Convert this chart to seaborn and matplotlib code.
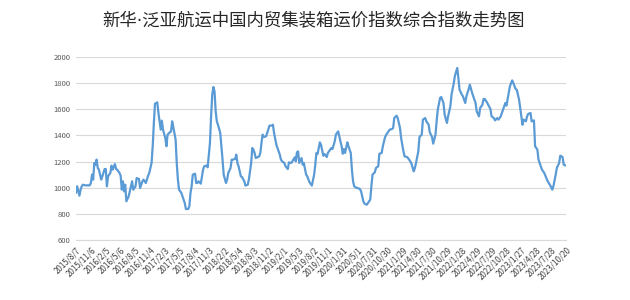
import numpy as np
import pandas as pd
import seaborn as sns
import matplotlib.pyplot as plt
from matplotlib.ticker import MultipleLocator

title = '新华·泛亚航运中国内贸集装箱运价指数综合指数走势图'

# week number since first release, index value
week = [0, 1, 3, 4, 5, 6, 8, 10, 12, 13, 14, 15, 16, 17, 18, 19, 20, 22, 23, 25,
        26, 27, 28, 30, 31, 32, 34, 35, 36, 38, 39, 40, 41, 42, 43, 44, 46, 47, 49, 50,
        52, 53, 55, 56, 58, 59, 61, 63, 64, 66, 67, 68, 69, 71, 72, 74, 75, 76, 78, 79,
        80, 82, 83, 84, 85, 87, 88, 89, 90, 92, 93, 95, 96, 98, 99, 100, 101, 102, 104, 105,
        106, 107, 109, 110, 111, 112, 114, 115, 117, 118, 119, 120, 121, 122, 123, 124, 126, 127, 128, 129,
        131, 132, 133, 135, 136, 137, 139, 140, 141, 142, 144, 145, 147, 148, 150, 151, 153, 154, 155, 156,
        157, 159, 160, 161, 162, 163, 164, 166, 167, 169, 171, 172, 173, 175, 176, 178, 179, 180, 182, 183,
        185, 186, 188, 189, 191, 192, 193, 194, 195, 197, 198, 199, 201, 202, 204, 206, 208, 209, 210, 211,
        213, 214, 216, 217, 219, 220, 221, 223, 224, 226, 227, 229, 230, 232, 233, 234, 235, 237, 238, 240,
        241, 242, 243, 245, 246, 248, 249, 251, 252, 254, 255, 257, 258, 259, 261, 262, 264, 265, 267, 268,
        270, 271, 273, 274, 276, 277, 278, 280, 281, 283, 284, 286, 287, 289, 290, 292, 293, 295, 296, 297,
        299, 300, 302, 303, 305, 306, 308, 309, 311, 312, 314, 315, 316, 318, 319, 321, 322, 324, 325, 327,
        328, 330, 331, 333, 334, 335, 337, 338, 340, 341, 343, 344, 346, 347, 349, 350, 352, 353, 355, 356,
        357, 359, 360, 362, 363, 365, 366, 368, 369, 371, 372, 374, 375, 376, 378, 379, 381, 382, 384, 385,
        387, 388, 390, 391, 393, 394, 395, 397, 398, 400, 401, 403, 404, 406, 407, 409, 410, 412, 413, 415,
        416, 417, 419, 420, 422, 423, 425, 426, 428]
index_value = [960, 1011, 939, 985, 1011, 1023, 1018, 1018, 1018, 1036, 1100, 1062, 1189, 1176, 1215, 1151, 1138, 1062, 1087, 1143,
               1143, 1011, 1087, 1113, 1169, 1138, 1181, 1143, 1138, 1113, 1092, 985, 1049, 972, 1023, 896, 934, 972, 1049, 985,
               1011, 1074, 1067, 998, 1049, 1062, 1036, 1092, 1113, 1189, 1317, 1495, 1643, 1653, 1572, 1444, 1513, 1444, 1380, 1317,
               1406, 1424, 1431, 1508, 1464, 1368, 1189, 1062, 985, 960, 934, 883, 837, 837, 858, 960, 1011, 1100, 1107, 1036,
               1036, 1049, 1031, 1087, 1138, 1164, 1169, 1156, 1342, 1546, 1712, 1770, 1737, 1584, 1508, 1482, 1419, 1317, 1215, 1100,
               1036, 1062, 1113, 1151, 1215, 1215, 1220, 1253, 1189, 1164, 1087, 1082, 1049, 1016, 1023, 1062, 1189, 1304, 1291, 1266,
               1227, 1235, 1240, 1266, 1342, 1406, 1388, 1393, 1419, 1475, 1475, 1482, 1419, 1329, 1304, 1253, 1215, 1202, 1189, 1164,
               1143, 1194, 1189, 1202, 1232, 1202, 1271, 1278, 1189, 1227, 1176, 1189, 1100, 1087, 1041, 1016, 1100, 1176, 1266, 1258,
               1347, 1329, 1245, 1258, 1235, 1266, 1278, 1304, 1296, 1355, 1406, 1431, 1393, 1317, 1260, 1296, 1266, 1347, 1317, 1266,
               1138, 1049, 1011, 998, 998, 990, 972, 896, 878, 870, 883, 909, 1011, 1100, 1118, 1151, 1164, 1260, 1266, 1317,
               1388, 1406, 1431, 1444, 1449, 1457, 1533, 1551, 1533, 1457, 1380, 1278, 1240, 1235, 1227, 1202, 1184, 1125, 1151, 1189,
               1278, 1388, 1406, 1521, 1533, 1508, 1482, 1424, 1388, 1337, 1406, 1508, 1597, 1686, 1694, 1648, 1559, 1495, 1546, 1623,
               1712, 1801, 1857, 1916, 1839, 1750, 1712, 1699, 1648, 1699, 1755, 1788, 1725, 1699, 1648, 1584, 1546, 1610, 1635, 1679,
               1679, 1653, 1635, 1602, 1546, 1533, 1515, 1533, 1521, 1546, 1572, 1623, 1648, 1628, 1725, 1776, 1821, 1801, 1755, 1750,
               1674, 1610, 1482, 1521, 1508, 1546, 1564, 1572, 1508, 1515, 1317, 1291, 1215, 1164, 1138, 1113, 1092, 1049, 1036, 1005,
               985, 1011, 1100, 1151, 1189, 1245, 1235, 1176, 1169]

date_labels = ['2015/8/7', '2015/11/6', '2016/2/5', '2016/5/6', '2016/8/5', '2016/11/4',
               '2017/2/3', '2017/5/5', '2017/8/4', '2017/11/3', '2018/2/2', '2018/5/4',
               '2018/8/3', '2018/11/2', '2019/2/1', '2019/5/3', '2019/8/2', '2019/11/1',
               '2020/1/31', '2020/5/1', '2020/7/31', '2020/10/30', '2021/1/29', '2021/4/30',
               '2021/7/30', '2021/10/29', '2022/1/28', '2022/4/29', '2022/7/29', '2022/10/28',
               '2023/1/27', '2023/4/28', '2023/7/28', '2023/10/20']

df = pd.DataFrame({'week': week, 'value': index_value})

sns.set_style('white')
plt.rcParams['font.family'] = ['Noto Sans CJK SC', 'DejaVu Sans']

fig = plt.figure(figsize=(6.3, 3), dpi=100)
ax = fig.add_axes([76 / 630, 0.2, 490 / 630, 0.61])

sns.lineplot(data=df, x='week', y='value', color='#5B9BD5', linewidth=1.6, ax=ax)

ax.set_xlim(0, week[-1])
ax.set_ylim(600, 2000)
ax.set_yticks(range(600, 2001, 200))
ax.yaxis.grid(True, color='#D9D9D9', linewidth=0.8)
ax.set_axisbelow(True)
for s in ['top', 'right', 'left']:
    ax.spines[s].set_visible(False)
ax.spines['bottom'].set_color('#D9D9D9')
ax.spines['bottom'].set_linewidth(0.8)

ax.set_xticks(np.linspace(0, week[-1], len(date_labels)))
ax.set_xticklabels(date_labels, rotation=45, ha='right', rotation_mode='anchor')
ax.xaxis.set_minor_locator(MultipleLocator(5))
ax.tick_params(axis='x', which='major', length=0, pad=4, labelsize=5.8, labelcolor='#404040')
ax.tick_params(axis='x', which='minor', length=3, color='#D9D9D9', width=0.8)
ax.tick_params(axis='y', length=0, pad=4, labelsize=5.5, labelcolor='#595959')
ax.set_xlabel('')
ax.set_ylabel('')

# DejaVu first so the middle dot stays narrow, CJK glyphs fall back to Noto
fig.text(0.497, 1 - 21 / 300, title, ha='center', va='center', fontsize=12.5,
         color='#262626', family=['DejaVu Sans', 'Noto Sans CJK SC'])

plt.savefig('out.png')
